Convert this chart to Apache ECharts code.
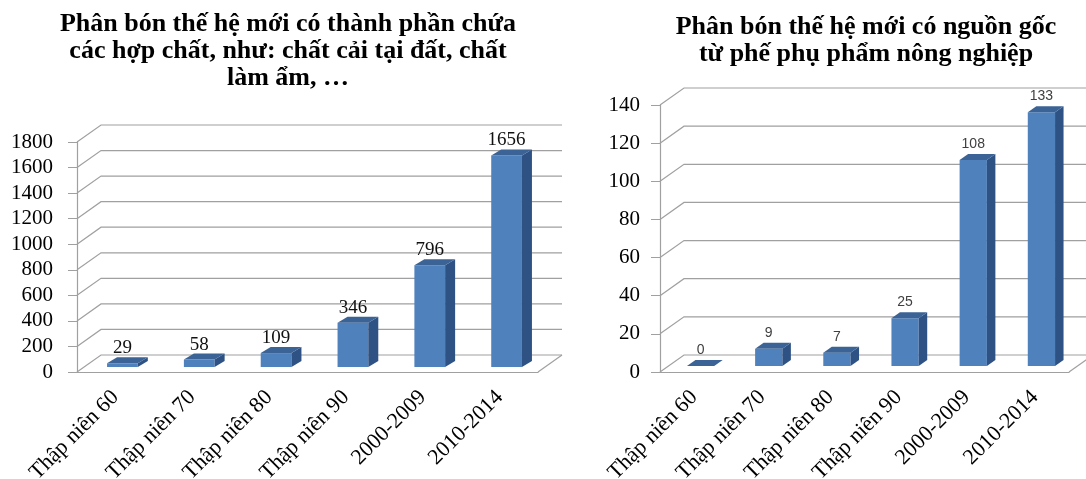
<!DOCTYPE html>
<html>
<head>
<meta charset="utf-8">
<script src="https://cdn.jsdelivr.net/npm/echarts@6/dist/echarts.min.js"></script>
<style>
html, body { margin: 0; padding: 0; background: #fff; }
#chart { width: 1086px; height: 479px; }
</style>
</head>
<body>
<div id="chart"></div>
<script>
// data
const categories = ['Thập niên 60', 'Thập niên 70', 'Thập niên 80', 'Thập niên 90', '2000-2009', '2010-2014'];
const valuesLeft = [29, 58, 109, 346, 796, 1656];
const valuesRight = [0, 9, 7, 25, 108, 133];
const ticksLeft = [0, 200, 400, 600, 800, 1000, 1200, 1400, 1600, 1800];
const ticksRight = [0, 20, 40, 60, 80, 100, 120, 140];
const titleLeft = 'Phân bón thế hệ mới có thành phần chứa\ncác hợp chất, như: chất cải tại đất, chất\nlàm ẩm, …';
const titleRight = 'Phân bón thế hệ mới có nguồn gốc\ntừ phế phụ phẩm nông nghiệp';

const gridColor = '#a0a0a0';
const serif = "'Liberation Serif', 'Times New Roman', serif";
const wallDx = 24, wallDy = -17;

// back wall + side wall lines, one per tick value
function wallItem(params, api)
{
   const cs = params.coordSys;
   const v = api.value(1);
   const y = api.coord([0, v])[1];
   const x0 = cs.x, x1 = cs.x + cs.width;
   const children = [{
      type: 'polyline',
      shape: { points: [[x0, y], [x0 + wallDx, y + wallDy], [x1 + wallDx, y + wallDy]] },
      style: { stroke: gridColor, lineWidth: 1.2, fill: null }
   }];
   if (v === 0)
   {
      children.push({
         type: 'line',
         shape: { x1: x1, y1: y, x2: x1 + wallDx, y2: y + wallDy },
         style: { stroke: gridColor, lineWidth: 1.2 }
      });
   }
   return { type: 'group', children: children };
}

// pseudo 3d bar
function barItem(cfg)
{
   return function (params, api)
   {
      const i = api.value(0), v = api.value(1);
      const base = api.coord([i, 0]);
      const top = api.coord([i, v]);
      const bw = api.size([1, 0])[0] * 0.4;
      const cx = base[0] + cfg.ox;
      const xl = cx - bw / 2, xr = cx + bw / 2;
      const yb = base[1] + cfg.oy, yt = top[1] + cfg.oy;
      const dx = cfg.dx, dy = cfg.dy;
      return {
         type: 'group',
         children: [
            {
               type: 'rect',
               shape: { x: xl, y: yt, width: bw, height: yb - yt },
               style: { fill: '#4f81bd' }
            },
            {
               type: 'polygon',
               shape: { points: [[xr, yt], [xr + dx, yt + dy], [xr + dx, yb + dy], [xr, yb]] },
               style: { fill: '#2f5284' }
            },
            {
               type: 'polygon',
               shape: { points: [[xl, yt], [xr, yt], [xr + dx, yt + dy], [xl + dx, yt + dy]] },
               style: { fill: '#3b6396' }
            },
            {
               type: 'text',
               x: cx,
               y: yt + dy - cfg.gap,
               style: {
                  text: String(v),
                  align: 'center',
                  verticalAlign: 'middle',
                  fontFamily: cfg.font,
                  fontSize: cfg.size,
                  fill: cfg.color
               }
            }
         ]
      };
   };
}

function yAxisOpt(gi, max, step, size, margin)
{
   return {
      gridIndex: gi,
      type: 'value',
      min: 0,
      max: max,
      interval: step,
      axisLine: { show: true, lineStyle: { color: gridColor, width: 1.2 } },
      axisTick: { show: true, length: 9, lineStyle: { color: gridColor } },
      splitLine: { show: false },
      axisLabel: { margin: margin, fontFamily: serif, fontSize: size, color: '#000', formatter: v => String(v) }
   };
}

function xAxisOpt(gi)
{
   return {
      gridIndex: gi,
      type: 'category',
      data: categories,
      axisLine: { lineStyle: { color: gridColor, width: 1.2 } },
      axisTick: { length: 5, lineStyle: { color: gridColor } },
      axisLabel: { rotate: 45, interval: 0, margin: 22, fontFamily: serif, fontSize: 22, color: '#000' }
   };
}

const chart = echarts.init(document.getElementById('chart'));

chart.setOption({
   animation: false,
   title: [
      {
         text: titleLeft,
         left: 283, top: 6, textAlign: 'center',
         textStyle: { fontFamily: serif, fontWeight: 'bold', fontSize: 26, lineHeight: 27, color: '#000' }
      },
      {
         text: titleRight,
         left: 861, top: 9, textAlign: 'center',
         textStyle: { fontFamily: serif, fontWeight: 'bold', fontSize: 26, lineHeight: 27, color: '#000' }
      }
   ],
   grid: [
      { left: 77, top: 142, width: 461, height: 230, outerBoundsMode: 'none', containLabel: false },
      { left: 660, top: 105, width: 409, height: 267, outerBoundsMode: 'none', containLabel: false }
   ],
   xAxis: [xAxisOpt(0), xAxisOpt(1)],
   yAxis: [yAxisOpt(0, 1800, 200, 21, 24), yAxisOpt(1, 140, 20, 21, 20)],
   series: [
      {
         type: 'custom', xAxisIndex: 0, yAxisIndex: 0, z: 1,
         renderItem: wallItem,
         encode: { x: 0, y: 1 },
         data: ticksLeft.map(t => [0, t])
      },
      {
         type: 'custom', xAxisIndex: 1, yAxisIndex: 1, z: 1,
         renderItem: wallItem,
         encode: { x: 0, y: 1 },
         data: ticksRight.map(t => [0, t])
      },
      {
         type: 'custom', xAxisIndex: 0, yAxisIndex: 0, z: 2,
         renderItem: barItem({ ox: 7, oy: -5, dx: 10, dy: -6, gap: 9, font: serif, size: 19, color: '#111' }),
         encode: { x: 0, y: 1 },
         data: valuesLeft.map((v, i) => [i, v])
      },
      {
         type: 'custom', xAxisIndex: 1, yAxisIndex: 1, z: 2,
         renderItem: barItem({ ox: 6.5, oy: -6, dx: 8.5, dy: -6, gap: 10, font: "'Liberation Sans', Arial, sans-serif", size: 14, color: '#404040' }),
         encode: { x: 0, y: 1 },
         data: valuesRight.map((v, i) => [i, v])
      }
   ]
});
</script>
</body>
</html>
